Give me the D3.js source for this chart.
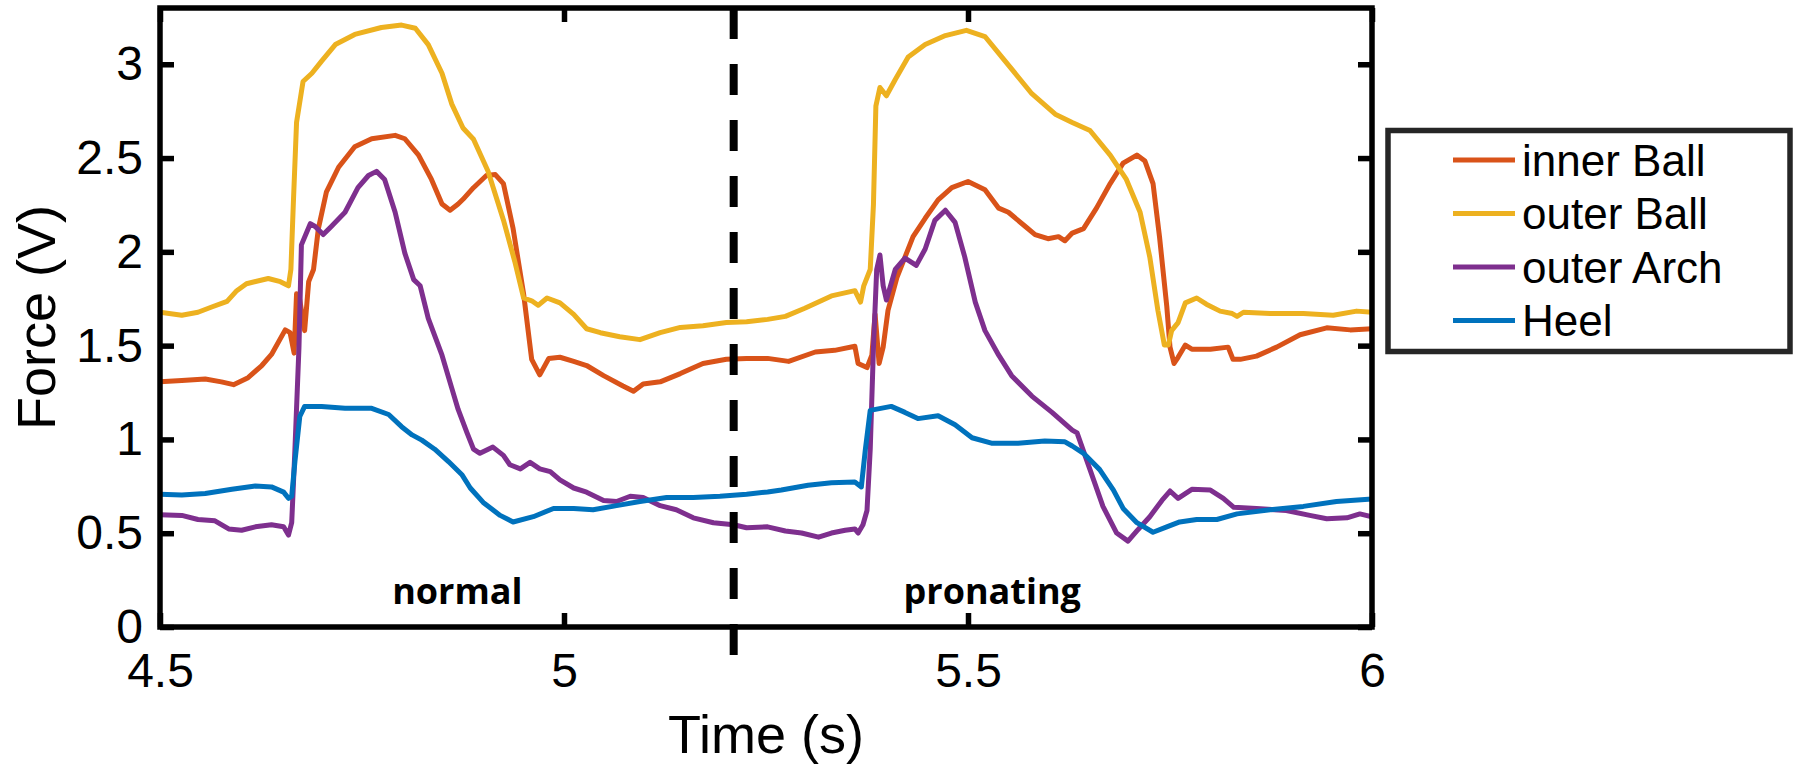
<!DOCTYPE html>
<html>
<head>
<meta charset="utf-8">
<script src="https://cdn.jsdelivr.net/npm/d3@7"></script>
<style>
    body { margin: 0; background: #fff; }
    svg { display: block; }
    .tick text { font-family: "Liberation Sans", Arial, sans-serif; font-size: 48px; fill: #000; }
    .tick line { stroke: #000; stroke-width: 5.5; }
    .axis-label { font-family: "Liberation Sans", Arial, sans-serif; font-size: 54px; fill: #000; }
    .note { font-family: "Open Sans", "Noto Sans", sans-serif; font-weight: bold; font-size: 36px; fill: #000; }
    .legend text { font-family: "Liberation Sans", Arial, sans-serif; font-size: 44px; fill: #000; }
</style>
</head>
<body>
<div id="graph"></div>
<script>
// series names and colours (MATLAB default order)
var seriesNames = ['inner Ball', 'outer Ball', 'outer Arch', 'Heel'];
var seriesColors = ['#D95319', '#EDB120', '#7E2F8E', '#0072BD'];

// [time (s), force (V)]
var innerBall = [[4.500,1.307],[4.527,1.314],[4.556,1.322],[4.576,1.307],[4.591,1.292],[4.609,1.329],[4.626,1.394],[4.638,1.453],[4.655,1.584],[4.661,1.569],[4.666,1.460],[4.669,1.776],[4.672,1.771],[4.679,1.580],[4.684,1.841],[4.690,1.906],[4.696,2.124],[4.706,2.320],[4.721,2.451],[4.741,2.560],[4.762,2.603],[4.791,2.621],[4.803,2.603],[4.820,2.516],[4.836,2.386],[4.849,2.255],[4.859,2.222],[4.869,2.255],[4.875,2.280],[4.888,2.342],[4.904,2.407],[4.915,2.412],[4.925,2.364],[4.937,2.124],[4.950,1.776],[4.960,1.427],[4.970,1.344],[4.981,1.431],[4.995,1.438],[5.012,1.416],[5.028,1.394],[5.049,1.340],[5.073,1.285],[5.086,1.257],[5.098,1.296],[5.119,1.307],[5.144,1.351],[5.172,1.405],[5.201,1.427],[5.226,1.431],[5.252,1.432],[5.278,1.416],[5.311,1.466],[5.335,1.475],[5.360,1.497],[5.364,1.405],[5.375,1.383],[5.381,1.449],[5.385,1.667],[5.390,1.405],[5.395,1.492],[5.401,1.688],[5.412,1.863],[5.422,1.972],[5.432,2.081],[5.447,2.179],[5.463,2.277],[5.480,2.342],[5.500,2.375],[5.521,2.331],[5.538,2.233],[5.550,2.211],[5.571,2.135],[5.583,2.092],[5.599,2.070],[5.612,2.081],[5.620,2.059],[5.629,2.100],[5.643,2.124],[5.659,2.233],[5.676,2.364],[5.692,2.473],[5.709,2.516],[5.719,2.484],[5.729,2.364],[5.737,2.081],[5.746,1.710],[5.750,1.492],[5.755,1.405],[5.760,1.438],[5.769,1.503],[5.777,1.481],[5.800,1.481],[5.822,1.492],[5.828,1.427],[5.837,1.427],[5.857,1.444],[5.882,1.492],[5.911,1.558],[5.944,1.595],[5.973,1.584],[6.000,1.590]];

var outerBall = [[4.500,1.678],[4.527,1.662],[4.547,1.678],[4.564,1.706],[4.583,1.736],[4.595,1.793],[4.607,1.830],[4.634,1.858],[4.649,1.841],[4.659,1.819],[4.662,1.906],[4.665,2.255],[4.669,2.690],[4.677,2.908],[4.688,2.952],[4.700,3.017],[4.717,3.105],[4.741,3.159],[4.774,3.196],[4.799,3.209],[4.816,3.192],[4.832,3.105],[4.849,2.952],[4.861,2.789],[4.875,2.660],[4.888,2.600],[4.906,2.430],[4.925,2.170],[4.939,1.950],[4.950,1.754],[4.960,1.739],[4.968,1.715],[4.979,1.754],[4.995,1.728],[5.012,1.667],[5.028,1.590],[5.045,1.569],[5.069,1.547],[5.094,1.532],[5.119,1.569],[5.144,1.597],[5.172,1.606],[5.201,1.623],[5.226,1.627],[5.252,1.640],[5.274,1.656],[5.298,1.699],[5.331,1.765],[5.360,1.793],[5.367,1.732],[5.371,1.819],[5.379,1.906],[5.383,2.255],[5.386,2.778],[5.391,2.876],[5.399,2.832],[5.410,2.919],[5.426,3.039],[5.447,3.105],[5.472,3.153],[5.498,3.181],[5.521,3.148],[5.546,3.017],[5.579,2.843],[5.608,2.734],[5.629,2.690],[5.651,2.647],[5.676,2.516],[5.696,2.386],[5.713,2.211],[5.725,1.972],[5.735,1.688],[5.743,1.503],[5.748,1.503],[5.752,1.580],[5.760,1.623],[5.769,1.728],[5.783,1.754],[5.795,1.721],[5.812,1.684],[5.827,1.671],[5.833,1.656],[5.841,1.678],[5.874,1.671],[5.915,1.671],[5.952,1.662],[5.981,1.684],[6.000,1.678]];

var outerArch = [[4.500,0.599],[4.527,0.595],[4.547,0.573],[4.568,0.566],[4.585,0.523],[4.601,0.516],[4.618,0.534],[4.638,0.545],[4.653,0.534],[4.659,0.490],[4.663,0.556],[4.667,0.948],[4.672,1.492],[4.675,2.037],[4.686,2.150],[4.692,2.135],[4.702,2.092],[4.712,2.135],[4.729,2.211],[4.745,2.342],[4.758,2.407],[4.768,2.429],[4.778,2.386],[4.791,2.211],[4.803,1.993],[4.814,1.852],[4.822,1.819],[4.832,1.645],[4.849,1.449],[4.861,1.275],[4.869,1.160],[4.880,1.035],[4.888,0.948],[4.896,0.926],[4.912,0.959],[4.925,0.915],[4.933,0.865],[4.946,0.843],[4.958,0.878],[4.970,0.843],[4.983,0.828],[4.995,0.784],[5.012,0.741],[5.028,0.719],[5.049,0.675],[5.065,0.669],[5.082,0.697],[5.098,0.690],[5.119,0.647],[5.139,0.625],[5.160,0.582],[5.185,0.556],[5.210,0.545],[5.226,0.529],[5.252,0.534],[5.274,0.512],[5.294,0.501],[5.315,0.479],[5.331,0.501],[5.348,0.516],[5.360,0.523],[5.364,0.501],[5.370,0.545],[5.375,0.621],[5.379,0.948],[5.383,1.492],[5.387,1.906],[5.391,1.983],[5.395,1.819],[5.399,1.743],[5.410,1.906],[5.422,1.967],[5.436,1.928],[5.447,2.015],[5.459,2.168],[5.472,2.222],[5.484,2.157],[5.496,1.972],[5.509,1.732],[5.521,1.580],[5.538,1.449],[5.554,1.340],[5.579,1.231],[5.604,1.144],[5.629,1.050],[5.635,1.035],[5.651,0.839],[5.667,0.643],[5.684,0.501],[5.698,0.458],[5.709,0.512],[5.725,0.588],[5.740,0.675],[5.750,0.725],[5.760,0.686],[5.777,0.734],[5.800,0.730],[5.816,0.686],[5.829,0.638],[5.857,0.632],[5.894,0.621],[5.923,0.595],[5.944,0.577],[5.969,0.582],[5.985,0.603],[6.000,0.588]];

var heel = [[4.500,0.708],[4.527,0.704],[4.556,0.712],[4.589,0.734],[4.618,0.752],[4.638,0.747],[4.653,0.719],[4.659,0.686],[4.663,0.697],[4.667,0.882],[4.673,1.122],[4.679,1.176],[4.700,1.176],[4.729,1.166],[4.762,1.166],[4.783,1.133],[4.799,1.068],[4.812,1.024],[4.824,0.996],[4.840,0.948],[4.857,0.882],[4.874,0.810],[4.884,0.741],[4.900,0.664],[4.921,0.595],[4.937,0.560],[4.962,0.588],[4.987,0.632],[5.012,0.632],[5.036,0.625],[5.065,0.647],[5.094,0.669],[5.127,0.690],[5.160,0.690],[5.193,0.697],[5.226,0.708],[5.252,0.720],[5.269,0.730],[5.302,0.756],[5.331,0.769],[5.360,0.773],[5.368,0.747],[5.373,0.948],[5.379,1.155],[5.405,1.176],[5.422,1.144],[5.438,1.111],[5.463,1.126],[5.484,1.078],[5.505,1.009],[5.529,0.980],[5.562,0.980],[5.595,0.991],[5.620,0.987],[5.629,0.965],[5.643,0.926],[5.663,0.839],[5.680,0.730],[5.692,0.632],[5.709,0.556],[5.729,0.505],[5.746,0.534],[5.762,0.560],[5.783,0.573],[5.808,0.573],[5.833,0.603],[5.874,0.625],[5.915,0.643],[5.956,0.669],[6.000,0.682]];

var xTicks = [4.5, 5, 5.5, 6];
var yTicks = [0, 0.5, 1, 1.5, 2, 2.5, 3];
var dividerTime = 5.21;
var noteLabels = ['normal', 'pronating'];
var noteTimes = [4.868, 5.53];

drawChart();

function drawChart() {
    var width = 1793,
        height = 765,
        left = 160, right = 1372, top = 8, bottom = 627,
        tickLen = 14;

    var x = d3.scaleLinear().domain([4.5, 6]).range([left, right]);
    var y = d3.scaleLinear().domain([0, 3.3]).range([bottom, top]);

    var svg = d3.select('#graph').append('svg')
        .attr('width', width)
        .attr('height', height);

    svg.append('rect')
        .attr('width', width)
        .attr('height', height)
        .attr('fill', '#fff');

    svg.append('clipPath').attr('id', 'plot-clip')
        .append('rect')
        .attr('x', left).attr('y', top)
        .attr('width', right - left).attr('height', bottom - top);

    //  Lines
    var line = d3.line()
        .x(function(d) { return x(d[0]); })
        .y(function(d) { return y(d[1]); });

    var allSeries = [innerBall, outerBall, outerArch, heel];

    svg.append('g')
        .attr('clip-path', 'url(#plot-clip)')
        .selectAll('path')
        .data(allSeries)
        .enter().append('path')
        .attr('d', line)
        .attr('fill', 'none')
        .attr('stroke', function(d, i) { return seriesColors[i]; })
        .attr('stroke-width', 5)
        .attr('stroke-linejoin', 'round')
        .attr('stroke-linecap', 'round');

    //  Axes, ticks pointing inward
    svg.append('g')
        .attr('transform', 'translate(0,' + bottom + ')')
        .call(d3.axisBottom(x).tickValues(xTicks).tickFormat(d3.format('')).tickSizeInner(-tickLen).tickSizeOuter(0).tickPadding(26));

    svg.append('g')
        .attr('transform', 'translate(0,' + top + ')')
        .call(d3.axisTop(x).tickValues(xTicks).tickFormat('').tickSizeInner(-tickLen).tickSizeOuter(0));

    svg.append('g')
        .attr('transform', 'translate(' + left + ',0)')
        .call(d3.axisLeft(y).tickValues(yTicks).tickFormat(d3.format('')).tickSizeInner(-tickLen).tickSizeOuter(0).tickPadding(17));

    svg.append('g')
        .attr('transform', 'translate(' + right + ',0)')
        .call(d3.axisRight(y).tickValues(yTicks).tickFormat('').tickSizeInner(-tickLen).tickSizeOuter(0));

    svg.selectAll('.domain').remove();

    svg.append('rect')
        .attr('x', left).attr('y', top)
        .attr('width', right - left).attr('height', bottom - top)
        .attr('fill', 'none')
        .attr('stroke', '#000')
        .attr('stroke-width', 5.5);

    //  Divider between the two gaits
    svg.append('line')
        .attr('x1', x(dividerTime)).attr('x2', x(dividerTime))
        .attr('y1', top).attr('y2', bottom + 30)
        .attr('stroke', '#000')
        .attr('stroke-width', 8)
        .attr('stroke-dasharray', '31,25');

    svg.selectAll('text.note')
        .data(noteLabels)
        .enter().append('text')
        .attr('class', 'note')
        .attr('x', function(d, i) { return x(noteTimes[i]); })
        .attr('y', bottom - 23)
        .attr('text-anchor', 'middle')
        .text(function(d) { return d; });

    //  Axis labels
    svg.append('text')
        .attr('class', 'axis-label')
        .attr('x', (left + right) / 2)
        .attr('y', 753)
        .attr('text-anchor', 'middle')
        .text('Time (s)');

    svg.append('text')
        .attr('class', 'axis-label')
        .attr('transform', 'translate(55,' + (top + bottom) / 2 + ') rotate(-90)')
        .attr('text-anchor', 'middle')
        .text('Force (V)');

    //  Legend
    var legend = svg.append('g').attr('class', 'legend');

    legend.append('rect')
        .attr('x', 1388).attr('y', 130.5)
        .attr('width', 402).attr('height', 221)
        .attr('fill', '#fff')
        .attr('stroke', '#262626')
        .attr('stroke-width', 5.5);

    var item = legend.selectAll('g.item')
        .data(seriesNames)
        .enter().append('g')
        .attr('class', 'item')
        .attr('transform', function(d, i) { return 'translate(0,' + (160 + 53.5 * i) + ')'; });

    item.append('line')
        .attr('x1', 1453).attr('x2', 1515)
        .attr('stroke', function(d, i) { return seriesColors[i]; })
        .attr('stroke-width', 5);

    item.append('text')
        .attr('x', 1522)
        .attr('y', 15.5)
        .text(function(d) { return d; });
}
</script>
</body>
</html>
